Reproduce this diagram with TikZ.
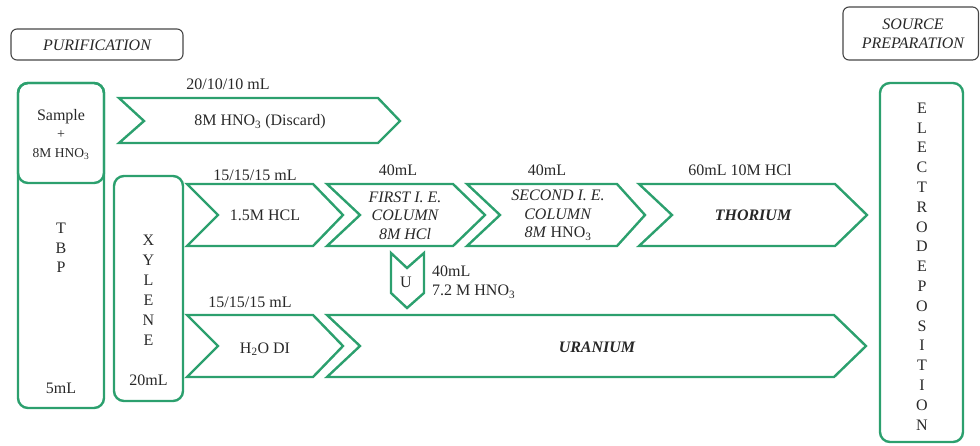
\documentclass[tikz,border=0pt]{standalone}
\usepackage{fontspec}
\setmainfont{Liberation Serif}
\definecolor{flowgreen}{RGB}{44,160,110}
\definecolor{inkgray}{RGB}{40,40,40}
\definecolor{framegray}{RGB}{70,70,70}
\tikzset{
  gbox/.style={draw=flowgreen, line width=2.4pt, rounded corners=10pt},
  hbox/.style={draw=framegray, line width=1.1pt, rounded corners=6pt},
  chev/.style={draw=flowgreen, line width=2.4pt, line join=miter},
  txt/.style={text=inkgray, font=\fontsize{16}{18.5}\selectfont, inner sep=0pt, align=center},
  lbl/.style={txt},
}
% chevron: left x, notch x, shoulder x, tip x, top y, middle y, bottom y
\newcommand\chevron[7]{%
  \draw[chev] (#1,#5) -- (#3,#5) -- (#4,#6) -- (#3,#7) -- (#1,#7) -- (#2,#6) -- cycle;}
\newcommand\sub[1]{\textsubscript{#1}}
\begin{document}
\begin{tikzpicture}[x=1pt,y=-1pt]
\useasboundingbox (0,0) rectangle (980,445);

% section headers
\draw[hbox] (11,29) rectangle (183,60);
\node[txt, font=\fontsize{16}{18.5}\selectfont\itshape] (purif) at (97,45) {PURIFICATION};
\draw[hbox] (843,7) rectangle (978.5,60);
\node[txt, font=\fontsize{16}{19}\selectfont\itshape] (srcprep) at (913,33.5) {SOURCE\\PREPARATION};

% TBP column with sample box on top
\draw[gbox] (18,83) rectangle (104,408);
\draw[gbox] (18,83) rectangle (104,183);
\node[txt] (sample) at (61,117) {Sample};
\node[txt, font=\fontsize{14}{16}\selectfont] (plus) at (61,135) {+};
\node[txt, font=\fontsize{13.5}{15}\selectfont] (hno) at (61,154) {8M HNO\sub{3}};
\node[txt, font=\fontsize{16}{19.5}\selectfont] (tbp) at (61,248) {T\\B\\P};
\node[txt] (tbpvol) at (61,388) {5mL};

% xylene column
\draw[gbox] (114,176) rectangle (183,401);
\node[txt, font=\fontsize{16}{20}\selectfont] (xyl) at (148.5,290) {X\\Y\\L\\E\\N\\E};
\node[txt] (xylvol) at (148.5,380) {20mL};

% electrodeposition column
\draw[gbox] (880,83) rectangle (963,442);
\node[txt, font=\fontsize{16}{19.8}\selectfont] (electro) at (922,266.5)
  {E\\L\\E\\C\\T\\R\\O\\D\\E\\P\\O\\S\\I\\T\\I\\O\\N};

% discard stream
\chevron{119}{144}{378}{400}{98}{121}{143}
\node[lbl] (dvol) at (228,84) {20/10/10 mL};
\node[txt] (discard) at (260,122) {8M HNO\sub{3} (Discard)};

% thorium stream
\chevron{187}{218}{313}{343}{184}{215}{246}
\node[lbl] (hclvol) at (255,175) {15/15/15 mL};
\node[txt] (hcl) at (265,215) {1.5M HCL};

\chevron{327}{360}{453}{485}{184}{215}{246}
\node[lbl] (c1vol) at (398,170) {40mL};
\node[txt, font=\fontsize{16}{18.5}\selectfont\itshape] (col1) at (405,215.5)
  {FIRST I. E.\\COLUMN\\8M HCl};

\chevron{467}{500}{617}{645}{184}{215}{246}
\node[lbl] (c2vol) at (547,170) {40mL};
\node[txt, font=\fontsize{16}{18.5}\selectfont] (col2) at (558,215.5)
  {\textit{SECOND I. E.}\\\textit{COLUMN}\\\textit{8M} HNO\sub{3}};

\chevron{639}{672}{835}{867}{184}{215}{246}
\node[lbl] (thvol) at (740,170) {60mL 10M HCl};
\node[txt, font=\fontsize{16}{18.5}\selectfont\bfseries\itshape] (thorium) at (753,215) {THORIUM};

% uranium elution marker
\draw[chev] (391,253) -- (407,268) -- (424,253) -- (424,293) -- (407,308) -- (391,293) -- cycle;
\node[txt] (u) at (406,282) {U};
\node[txt, align=left, anchor=west, font=\fontsize{16}{19.5}\selectfont] (uvol) at (432,282)
  {40mL\\7.2 M HNO\sub{3}};

% uranium stream
\chevron{187}{218}{313}{343}{315}{346}{377}
\node[lbl] (h2ovol) at (250,302) {15/15/15 mL};
\node[txt] (h2o) at (265,349) {H\sub{2}O DI};

\chevron{327}{360}{834}{866}{315}{346}{377}
\node[txt, font=\fontsize{16}{18.5}\selectfont\bfseries\itshape] (uranium) at (597,347) {URANIUM};
\end{tikzpicture}
\end{document}
